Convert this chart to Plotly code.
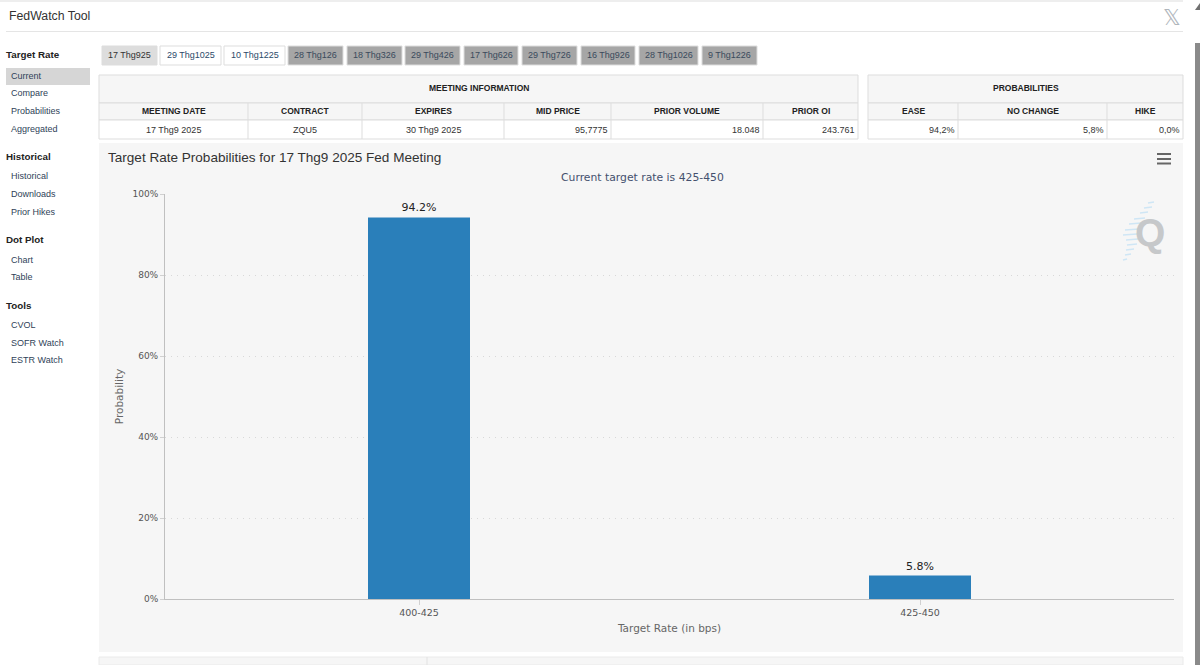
import plotly.graph_objects as go

# ---- data ----
categories = ["400-425", "425-450"]
probabilities = [94.2, 5.8]
bar_labels = ["94.2%", "5.8%"]
y_ticks = [0, 20, 40, 60, 80, 100]
y_tick_labels = ["0%", "20%", "40%", "60%", "80%", "100%"]
tab_labels = ["17 Thg925", "29 Thg1025", "10 Thg1225", "28 Thg126", "18 Thg326", "29 Thg426",
              "17 Thg626", "29 Thg726", "16 Thg926", "28 Thg1026", "9 Thg1226"]
meeting_headers = ["MEETING DATE", "CONTRACT", "EXPIRES", "MID PRICE", "PRIOR VOLUME", "PRIOR OI"]
meeting_values = ["17 Thg9 2025", "ZQU5", "30 Thg9 2025", "95,7775", "18.048", "243.761"]
prob_headers = ["EASE", "NO CHANGE", "HIKE"]
prob_values = ["94,2%", "5,8%", "0,0%"]

# ---- layout geometry (pixels of the 1200x665 page) ----
W, H = 1200, 665
tab_spans = [(102, 157), (160, 221), (224, 285), (288, 343), (347, 402), (405, 460),
             (464, 518), (522, 577), (581, 635), (639, 698), (702, 757)]
tab_styles = ["sel", "on", "on"] + ["off"] * 8
meeting_cols = [99, 248, 362, 504, 611, 763, 858]
meeting_align = ["c", "c", "c", "r", "r", "r"]
prob_cols = [868, 958, 1107, 1183]
prob_align = ["r", "r", "r"]
side_heads = [("Target Rate", 55), ("Historical", 156), ("Dot Plot", 239), ("Tools", 305)]
side_items = [("Current", 76), ("Compare", 93), ("Probabilities", 111), ("Aggregated", 129),
              ("Historical", 176), ("Downloads", 194), ("Prior Hikes", 212),
              ("Chart", 260), ("Table", 277),
              ("CVOL", 325), ("SOFR Watch", 343), ("ESTR Watch", 360)]
logo_stripes = [(1148, 1154, 203), (1144, 1152, 208), (1140, 1148, 213), (1134, 1145, 219),
                (1129, 1141, 224), (1125, 1139, 230), (1123, 1137, 235), (1126, 1138, 240),
                (1127, 1137, 245), (1126, 1134, 250), (1125, 1131, 255), (1123, 1127, 260)]

px = lambda v: v / W
py = lambda v: 1 - v / H
shapes, notes = [], []


def rect(x0, y0, x1, y1, fill, line=None, width=1):
    shapes.append(dict(type="rect", xref="paper", yref="paper", x0=px(x0), x1=px(x1),
                       y0=py(y0), y1=py(y1), fillcolor=fill, layer="below",
                       line=dict(color=line or fill, width=width if line else 0)))


def seg(x0, y0, x1, y1, color, width=1):
    shapes.append(dict(type="line", xref="paper", yref="paper", x0=px(x0), x1=px(x1),
                       y0=py(y0), y1=py(y1), layer="below", line=dict(color=color, width=width)))


def text(s, x, y, size=10, color="#333333", anchor="left", bold=False, fam="Liberation Sans"):
    # annotations carry a 2px inner padding: cancel it so text starts where asked
    nudge = {"left": -2, "right": 2, "center": 0}[anchor]
    notes.append(dict(xref="paper", yref="paper", x=px(x + nudge), y=py(y),
                      text=f"<b>{s}</b>" if bold else s,
                      showarrow=False, xanchor=anchor, yanchor="middle",
                      font=dict(size=size, color=color, family=fam)))


# modal header
rect(0, 0, 1183, 2, "#eeeeee")
seg(6, 31.5, 1183, 31.5, "#e5e5e5")
text("FedWatch Tool", 9, 16, 12.3, "#333333")
text("\U0001D54F", 1172, 17, 22, "#b0b6bc", "center", fam="DejaVu Sans")

# scrollbar
seg(1197.5, 43, 1197.5, 665, "#8a8a8a", 5)
shapes.append(dict(type="path", xref="paper", yref="paper", layer="below", fillcolor="#707070",
                   line=dict(width=0),
                   path=f"M {px(1195)} {py(10)} L {px(W)} {py(10)} L {px(W)} {py(3)} Z"))

# sidebar
rect(6, 68, 90, 85, "#d6d6d6")
for s, y in side_heads:
    text(s, 6, y, 9.8, "#222222", bold=True)
for s, y in side_items:
    text(s, 11, y, 9, "#2f3f58")

# tabs
tab_fill = {"sel": "#dddddd", "on": "#ffffff", "off": "#a6a6a6"}
tab_ink = {"sel": "#333333", "on": "#2c4a6a", "off": "#3a4a5c"}
for s, (a, b), st in zip(tab_labels, tab_spans, tab_styles):
    rect(a, 46, b, 65, tab_fill[st], "#dddddd")
    text(s, (a + b) / 2, 55.5, 9, tab_ink[st], "center")


# info tables
def table(cols, title, heads, vals, aligns):
    rect(cols[0], 75, cols[-1], 103, "#f6f6f6", "#dddddd")
    rect(cols[0], 103, cols[-1], 120, "#f6f6f6", "#dddddd")
    rect(cols[0], 120, cols[-1], 139, "#ffffff", "#dddddd")
    for c in cols[1:-1]:
        seg(c, 103, c, 139, "#dddddd")
    text(title, (cols[0] + cols[-1]) / 2, 88, 8.5, "#222222", "center", True)
    for i, (h, v) in enumerate(zip(heads, vals)):
        a, b = cols[i], cols[i + 1]
        text(h, (a + b) / 2, 111, 8.5, "#222222", "center", True)
        if aligns[i] == "c":
            text(v, (a + b) / 2, 130, 9, "#333333", "center")
        else:
            text(v, b - 3, 130, 9, "#333333", "right")


table(meeting_cols, "MEETING INFORMATION", meeting_headers, meeting_values, meeting_align)
table(prob_cols, "PROBABILITIES", prob_headers, prob_values, prob_align)

# chart panel
rect(99, 143, 1183, 652, "#f6f6f6")
text("Target Rate Probabilities for 17 Thg9 2025 Fed Meeting", 108, 157, 13.55, "#333333")
text("Current target rate is 425-450", 642, 177, 10.8, "#44506e", "center", fam="DejaVu Sans")

# hamburger menu
for y in (154, 159, 163.5):
    seg(1157, y, 1171, y, "#666666", 2)

# watermark
for a, b, y in logo_stripes:
    seg(a, y, b, y - 1, "#cfe6f5", 1.5)
text("Q", 1150, 232, 39, "#c6c8ca", "center", True)

# next panel at bottom
rect(99, 657, 1183, H, "#f6f6f6", "#eaeaea")
seg(427, 657, 427, H, "#e2e2e2")

fig = go.Figure(go.Bar(
    x=categories, y=probabilities, text=bar_labels, textposition="outside", cliponaxis=False,
    textfont=dict(size=11, color="#222222", family="DejaVu Sans"),
    marker=dict(color="#2a7fba", line=dict(width=0)), width=0.2036, hoverinfo="skip",
))
tickfont = dict(size=9.5, color="#555555", family="DejaVu Sans")
titlefont = dict(size=10.5, color="#666666", family="DejaVu Sans")
fig.update_layout(
    width=W, height=H, margin=dict(l=0, r=0, t=0, b=0, autoexpand=False), autosize=False,
    paper_bgcolor="#ffffff", plot_bgcolor="rgba(0,0,0,0)", showlegend=False,
    shapes=shapes, annotations=notes,
    xaxis=dict(domain=[px(165), px(1174)], type="category", range=[-0.507, 1.507], showgrid=False,
               showline=True, linecolor="#c0c0c0", ticks="outside", ticklen=5, tickcolor="#d0d0d0",
               tickfont=tickfont, title=dict(text="Target Rate (in bps)", font=titlefont, standoff=7)),
    yaxis=dict(domain=[py(599), py(194)], range=[0, 100], tickvals=y_ticks, ticktext=y_tick_labels,
               showgrid=True, gridcolor="#d8d8d8", griddash="1px,5px", gridwidth=1, zeroline=False,
               showline=True, linecolor="#c0c0c0", ticks="outside", ticklen=4, tickcolor="#d0d0d0",
               tickfont=dict(size=9, color="#555555", family="DejaVu Sans"),
               title=dict(text="Probability", font=titlefont, standoff=6)),
)
fig.write_html("out.html", config=dict(displayModeBar=False),
               post_script="document.body.style.margin='0';document.body.style.overflow='hidden';")
